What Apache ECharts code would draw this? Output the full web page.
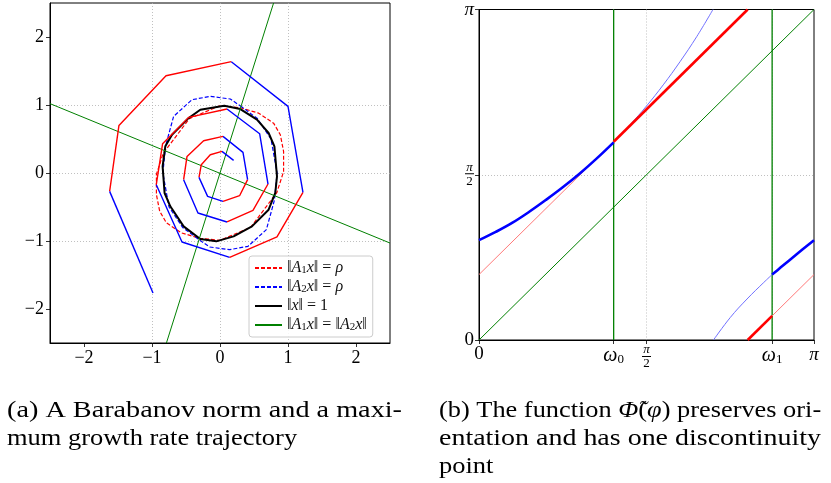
<!DOCTYPE html>
<html><head><meta charset="utf-8">
<script src="https://cdn.jsdelivr.net/npm/echarts@6/dist/echarts.min.js"></script>
<style>html,body{margin:0;padding:0;background:#fff}#c{width:831px;height:483px}</style>
</head><body><div id="c"></div>
<script>
const PI = Math.PI;
const FONT = '"Liberation Serif", "DejaVu Serif", serif';

// ---------- panel (a) ----------
const TICKS_A = [-2, -1, 0, 1, 2];
const TICK_LABELS_A = ['\u22122', '\u22121', '0', '1', '2'];

// maximum growth rate trajectory (spiral, counter-clockwise outwards)
const TRAJ_X = [0.20, 0.029, -0.143, -0.275, -0.309, -0.182, 0.044, 0.288, 0.406, 0.338, 0.044,
  -0.241, -0.485, -0.535, -0.324, 0.103, 0.485, 0.706, 0.583, 0.103, -0.461, -0.844, -0.937,
  -0.559, 0.142, 0.838, 1.22, 1.0, 0.166, -0.794, -1.486, -1.623, -0.985];
const TRAJ_Y = [0.186, 0.318, 0.269, 0.122, -0.064, -0.344, -0.417, -0.334, -0.098, 0.303, 0.538,
  0.475, 0.244, -0.098, -0.588, -0.72, -0.55, -0.162, 0.578, 0.941, 0.818, 0.431, -0.172,
  -1.015, -1.24, -0.94, -0.285, 0.98, 1.637, 1.431, 0.70, -0.27, -1.765];
// segments [from index, to index, matrix used]
const TRAJ_SEG = [[0,1,'A2'],[1,4,'A1'],[4,6,'A2'],[6,8,'A1'],[8,10,'A2'],[10,13,'A1'],[13,15,'A2'],
  [15,17,'A1'],[17,19,'A2'],[19,22,'A1'],[22,24,'A2'],[24,26,'A1'],[26,28,'A2'],[28,31,'A1'],[31,32,'A2']];

// ||A1 x|| = rho
const RHO1_X = [0.935, 0.935, 0.887, 0.788, 0.568, 0.299, 0.0, -0.45, -0.835, -0.935, -0.935, -0.887, -0.788, -0.568, -0.299, 0.0, 0.45, 0.835];
const RHO1_Y = [0.02, 0.318, 0.563, 0.733, 0.88, 0.96, 0.99, 0.80, 0.29, -0.02, -0.318, -0.563, -0.733, -0.88, -0.96, -0.99, -0.80, -0.29];
// ||A2 x|| = rho
const RHO2_X = [0.323, 0.152, -0.143, -0.412, -0.682, -0.80, -0.84, -0.75, -0.55, -0.323, -0.152, 0.143, 0.412, 0.682, 0.80, 0.84, 0.75, 0.55];
const RHO2_Y = [0.97, 1.088, 1.127, 1.078, 0.833, 0.40, 0.0, -0.50, -0.80, -0.97, -1.088, -1.127, -1.078, -0.833, -0.40, 0.0, 0.50, 0.80];
// ||x|| = 1
const UNIT_X = [-0.471, -0.29, 0.063, 0.299, 0.544, 0.715, 0.80, 0.838, 0.813, 0.715, 0.47, 0.2, -0.054, -0.29, -0.535, -0.731, -0.815, -0.844, -0.804, -0.706];
const UNIT_Y = [0.799, 0.93, 0.99, 0.94, 0.784, 0.588, 0.392, -0.05, -0.294, -0.54, -0.785, -0.932, -1.005, -0.971, -0.785, -0.49, -0.294, 0.098, 0.392, 0.563];
// ||A1 x|| = ||A2 x|| (two lines through origin)
const EQ1_X = [-0.788, 0.788], EQ1_Y = [-2.5, 2.5];
const EQ2_X = [-2.5, 2.5], EQ2_Y = [1.02, -1.03];

// ---------- panel (b) (values in units of pi) ----------
const OMEGA0 = 0.402, OMEGA1 = 0.875, HALF = 0.5;
const DIAG_X = [0, 1], DIAG_Y = [0, 1];
const RED_THIN_A_X = [0, 0.402], RED_THIN_A_Y = [0.198, 0.600];
const RED_THICK_A_X = [0.402, 0.802], RED_THICK_A_Y = [0.600, 1.0];
const RED_THICK_B_X = [0.802, 0.875], RED_THICK_B_Y = [0, 0.073];
const RED_THIN_B_X = [0.875, 1.0], RED_THIN_B_Y = [0.073, 0.198];
const BLUE_THICK_A_X = [0, 0.05, 0.1, 0.15, 0.2, 0.25, 0.3, 0.35, 0.402];
const BLUE_THICK_A_Y = [0.302, 0.327, 0.355, 0.388, 0.424, 0.462, 0.503, 0.548, 0.598];
const BLUE_THIN_A_X = [0.402, 0.45, 0.5, 0.55, 0.6, 0.65, 0.6985];
const BLUE_THIN_A_Y = [0.598, 0.650, 0.708, 0.772, 0.842, 0.918, 1.0];
const BLUE_THIN_B_X = [0.7, 0.75, 0.8, 0.85, 0.875];
const BLUE_THIN_B_Y = [0, 0.068, 0.124, 0.174, 0.198];
const BLUE_THICK_B_X = [0.875, 0.9, 0.95, 1.0];
const BLUE_THICK_B_Y = [0.198, 0.219, 0.261, 0.302];
const TICKS_B_X = [0, OMEGA0, HALF, OMEGA1, 1];
const TICKS_B_Y = [0, HALF, 1];

// captions
const CAP_A = ['(a) A Barabanov norm and a maxi-', 'mum growth rate trajectory'];
const CAP_B = ['(b) The function {i|\u03a6\u0303}({i|\u03c6}) preserves ori-', 'entation and has one discontinuity', 'point'];

function pts(xs, ys, k) { k = k || 1; return xs.map((x, i) => [x * k, ys[i] * k]); }
function closed(xs, ys) { const p = pts(xs, ys); p.push(p[0]); return p; }

const COL = { A1: '#ff0000', A2: '#0000ff' };
const gridLine = { show: true, showMinLine: false, showMaxLine: false, lineStyle: { color: '#b0b0b0', type: [1, 2], width: 0.8 } };

const series = [];
function lineA(name, data, color, width, type) {
  series.push({ type: 'line', name: name, xAxisIndex: 0, yAxisIndex: 0, data: data,
    symbol: 'none', silent: true, lineStyle: { color: color, width: width, type: type || 'solid' },
    itemStyle: { color: color } });
}
lineA('A1', closed(RHO1_X, RHO1_Y), '#ff0000', 1.2, [4, 2]);
lineA('A2', closed(RHO2_X, RHO2_Y), '#0000ff', 1.2, [4, 2]);
lineA('unit', closed(UNIT_X, UNIT_Y), '#000000', 2);
lineA('eq', pts(EQ1_X, EQ1_Y), '#008000', 1);
lineA('eq', pts(EQ2_X, EQ2_Y), '#008000', 1);
const traj = pts(TRAJ_X, TRAJ_Y);
TRAJ_SEG.forEach(s => lineA('traj' + s[0], traj.slice(s[0], s[1] + 1), COL[s[2]], 1.4));

function lineB(name, data, color, width, smooth) {
  series.push({ type: 'line', name: name, xAxisIndex: 1, yAxisIndex: 1, data: data, symbol: 'none', silent: true,
    smooth: smooth ? 0.4 : false, itemStyle: { color: color },
    lineStyle: { color: color, width: width } });
}
lineB('diag', pts(DIAG_X, DIAG_Y, PI), '#008000', 1);
lineB('w0', [[OMEGA0 * PI, 0], [OMEGA0 * PI, PI]], '#008000', 1.3);
lineB('w1', [[OMEGA1 * PI, 0], [OMEGA1 * PI, PI]], '#008000', 1.3);
lineB('rA', pts(RED_THIN_A_X, RED_THIN_A_Y, PI), '#ff7a7a', 1);
lineB('rB', pts(RED_THIN_B_X, RED_THIN_B_Y, PI), '#ff7a7a', 1);
lineB('bA', pts(BLUE_THIN_A_X, BLUE_THIN_A_Y, PI), '#7070ff', 1, true);
lineB('bB', pts(BLUE_THIN_B_X, BLUE_THIN_B_Y, PI), '#7070ff', 1, true);
lineB('RA', pts(RED_THICK_A_X, RED_THICK_A_Y, PI), '#ff0000', 2.6);
lineB('RB', pts(RED_THICK_B_X, RED_THICK_B_Y, PI), '#ff0000', 2.6);
lineB('BA', pts(BLUE_THICK_A_X, BLUE_THICK_A_Y, PI), '#0000ff', 2.6, true);
lineB('BB', pts(BLUE_THICK_B_X, BLUE_THICK_B_Y, PI), '#0000ff', 2.6, true);

const near = (a, b) => Math.abs(a - b) < 1e-6;
function fmtB(v) {
  const f = v / PI;
  if (near(f, 0)) return '0';
  if (near(f, 1)) return '{r|\u03c0}';
  if (near(f, HALF)) return '{n|\u03c0}\n{bar|}\n{d|2}';
  if (near(f, OMEGA0)) return '{w|\u03c9}{s|0}';
  if (near(f, OMEGA1)) return '{w|\u03c9}{s|1}';
  return '';
}
const richB = {
  r: { fontFamily: FONT, fontSize: 19, fontStyle: 'italic', color: '#000' },
  n: { fontFamily: FONT, fontSize: 13, fontStyle: 'italic', lineHeight: 10, color: '#000', align: 'center' },
  bar: { width: 9, height: 1, lineHeight: 3, backgroundColor: '#000', align: 'center' },
  d: { fontFamily: FONT, fontSize: 13, lineHeight: 12, color: '#000', align: 'center' },
  w: { fontFamily: FONT, fontSize: 20, fontStyle: 'italic', color: '#000' },
  s: { fontFamily: FONT, fontSize: 13, color: '#000', padding: [8, 0, 0, 0] }
};

const axisLineStyle = { show: true, onZero: false, lineStyle: { color: '#000', width: 1 } };
function tick(vals) { return { show: true, length: 4, customValues: vals, lineStyle: { color: '#000', width: 0.8 } }; }

const LFONT = 'Liberation Serif';
const legRich = {
  i: { fontFamily: LFONT, fontSize: 16, fontStyle: 'italic', color: '#111' },
  t: { fontFamily: LFONT, fontSize: 16, color: '#111' },
  s: { fontFamily: LFONT, fontSize: 11, color: '#111', padding: [5, 0, 0, 0] }
};
const LEG_TEXT = {
  A1: '{t|\u2016}{i|A}{s|1}{i|x}{t|\u2016 = }{i|\u03c1}',
  A2: '{t|\u2016}{i|A}{s|2}{i|x}{t|\u2016 = }{i|\u03c1}',
  unit: '{t|\u2016}{i|x}{t|\u2016 = 1}',
  eq: '{t|\u2016}{i|A}{s|1}{i|x}{t|\u2016 = \u2016}{i|A}{s|2}{i|x}{t|\u2016}'
};

// caption layout: scale each line horizontally (LaTeX-like justification)
const CAP_SIZE = 23;
const ctx = document.createElement('canvas').getContext('2d');
ctx.font = CAP_SIZE + 'px "Liberation Serif"';
function capLine(raw, x, y, target) {
  const plain = raw.replace(/\{i\|([^}]*)\}/g, '$1');
  const w = ctx.measureText(plain).width;
  const sx = target ? target / w : 1.15;
  return { type: 'text', x: x, y: y, scaleX: sx, silent: true,
    style: { text: raw, font: CAP_SIZE + 'px "Liberation Serif"', fontFamily: 'Liberation Serif', fontSize: CAP_SIZE, fill: '#000',
      rich: { i: { fontFamily: 'Liberation Serif', fontSize: CAP_SIZE, fontStyle: 'italic', fill: '#000' } } } };
}
const graphics = [
  capLine(CAP_A[0], 7, 399, 395), capLine(CAP_A[1], 7, 427, null),
  capLine(CAP_B[0], 439, 399, 382), capLine(CAP_B[1], 439, 427, 382), capLine(CAP_B[2], 439, 455, null)
];

const option = {
  animation: false,
  backgroundColor: '#fff',
  grid: [
    { left: 50, top: 3, width: 340, height: 340, show: true, borderColor: '#000', borderWidth: 1, backgroundColor: 'transparent' },
    { left: 479, top: 5, width: 335, height: 335, show: true, borderColor: '#000', borderWidth: 1, backgroundColor: 'transparent' }
  ],
  xAxis: [
    { type: 'value', gridIndex: 0, min: -2.5, max: 2.5, axisLine: axisLineStyle, axisTick: tick(TICKS_A),
      axisLabel: { customValues: TICKS_A, formatter: v => TICK_LABELS_A[TICKS_A.indexOf(Math.round(v))] || '',
        fontFamily: FONT, fontSize: 18, color: '#000', margin: 6 },
      splitLine: gridLine },
    { type: 'value', gridIndex: 1, min: 0, max: PI, axisLine: axisLineStyle, axisTick: tick(TICKS_B_X.map(v => v * PI)),
      axisLabel: { customValues: TICKS_B_X.map(v => v * PI), formatter: fmtB, rich: richB,
        fontFamily: FONT, fontSize: 19, color: '#000', margin: 5 },
      splitLine: gridLine }
  ],
  yAxis: [
    { type: 'value', gridIndex: 0, min: -2.5, max: 2.5, axisLine: axisLineStyle, axisTick: tick(TICKS_A),
      axisLabel: { customValues: TICKS_A, formatter: v => TICK_LABELS_A[TICKS_A.indexOf(Math.round(v))] || '',
        fontFamily: FONT, fontSize: 18, color: '#000', margin: 6 },
      splitLine: gridLine },
    { type: 'value', gridIndex: 1, min: 0, max: PI, axisLine: axisLineStyle, axisTick: tick(TICKS_B_Y.map(v => v * PI)),
      axisLabel: { customValues: TICKS_B_Y.map(v => v * PI), formatter: fmtB, rich: richB,
        fontFamily: FONT, fontSize: 19, color: '#000', margin: 5 },
      splitLine: gridLine }
  ],
  legend: {
    data: ['A1', 'A2', 'unit', 'eq'],
    orient: 'vertical', left: 249, top: 256,
    itemWidth: 27, itemHeight: 10, itemGap: 3,
    padding: [4, 6, 4, 5],
    backgroundColor: 'rgba(255,255,255,0.85)', borderColor: '#cccccc', borderWidth: 1, borderRadius: 3,
    selectedMode: false,
    itemStyle: { opacity: 0, color: 'transparent', borderWidth: 0 },
    formatter: n => LEG_TEXT[n],
    textStyle: { fontFamily: LFONT, fontSize: 16, color: '#111', rich: legRich }
  },
  graphic: graphics,
  series: series
};
const chart = echarts.init(document.getElementById('c'));
chart.setOption(option);
</script>
</body></html>
